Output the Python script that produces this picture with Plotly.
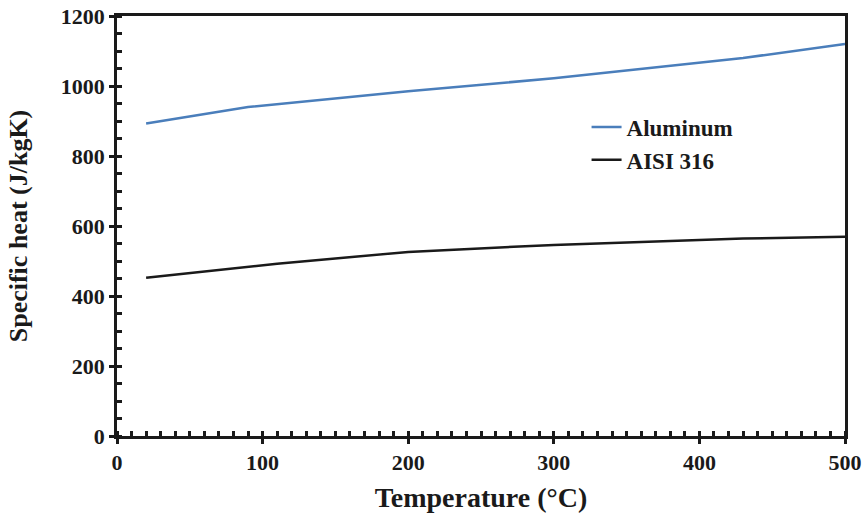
import plotly.graph_objects as go

temp_al = [20, 90, 200, 300, 430, 500]
cp_al = [893, 940, 985, 1022, 1080, 1120]
temp_ss = [20, 110, 200, 300, 430, 500]
cp_ss = [452, 492, 526, 546, 564, 569]

FONT = "Liberation Serif"

fig = go.Figure()
fig.add_trace(go.Scatter(x=temp_al, y=cp_al, mode="lines", name="Aluminum",
                         line=dict(color="#4a7ebb", width=2.5)))
fig.add_trace(go.Scatter(x=temp_ss, y=cp_ss, mode="lines", name="AISI 316",
                         line=dict(color="#1a1a1a", width=2.5)))
# invisible trace on secondary axes to create crossing major ticks
fig.add_trace(go.Scatter(x=[0], y=[0], xaxis="x2", yaxis="y2", mode="markers",
                         marker=dict(opacity=0), showlegend=False, hoverinfo="skip"))

axis_common = dict(showgrid=False, zeroline=False, showline=True, linecolor="#1a1a1a",
                   linewidth=2.5, mirror=True, ticks="outside", ticklen=5, tickwidth=2.5,
                   tickcolor="#1a1a1a", automargin=False,
                   tickfont=dict(family=FONT, size=22, color="#1a1a1a", weight="bold"))

fig.update_layout(
    width=863, height=518,
    margin=dict(l=117, r=18, t=16, b=82, autoexpand=False),
    paper_bgcolor="white", plot_bgcolor="white",
    xaxis=dict(range=[0, 500], dtick=100, tick0=0,
               minor=dict(dtick=10, ticks="inside", ticklen=5, tickwidth=2.5, tickcolor="#1a1a1a"),
               title=dict(text="Temperature (°C)", standoff=14,
                          font=dict(family=FONT, size=28, color="#1a1a1a", weight="bold")),
               **axis_common),
    yaxis=dict(range=[0, 1200], dtick=200, tick0=0,
               minor=dict(dtick=50, ticks="inside", ticklen=5, tickwidth=2.5, tickcolor="#1a1a1a"),
               title=dict(text="Specific heat (J/kgK)", standoff=26,
                          font=dict(family=FONT, size=26, color="#1a1a1a", weight="bold")),
               **axis_common),
    xaxis2=dict(range=[0, 500], dtick=100, overlaying="x", matches="x", ticks="inside",
                ticklen=5, tickwidth=2.5, tickcolor="#1a1a1a", showticklabels=False,
                showgrid=False, zeroline=False, showline=False),
    yaxis2=dict(range=[0, 1200], dtick=200, overlaying="y", matches="y", ticks="inside",
                ticklen=5, tickwidth=2.5, tickcolor="#1a1a1a", showticklabels=False,
                showgrid=False, zeroline=False, showline=False),
    legend=dict(x=0.645, y=0.787, xanchor="left", yanchor="top",
                bgcolor="rgba(0,0,0,0)", tracegroupgap=8,
                font=dict(family=FONT, size=23, color="#1a1a1a", weight="bold")),
    showlegend=True,
)

fig.write_html("out.html")
